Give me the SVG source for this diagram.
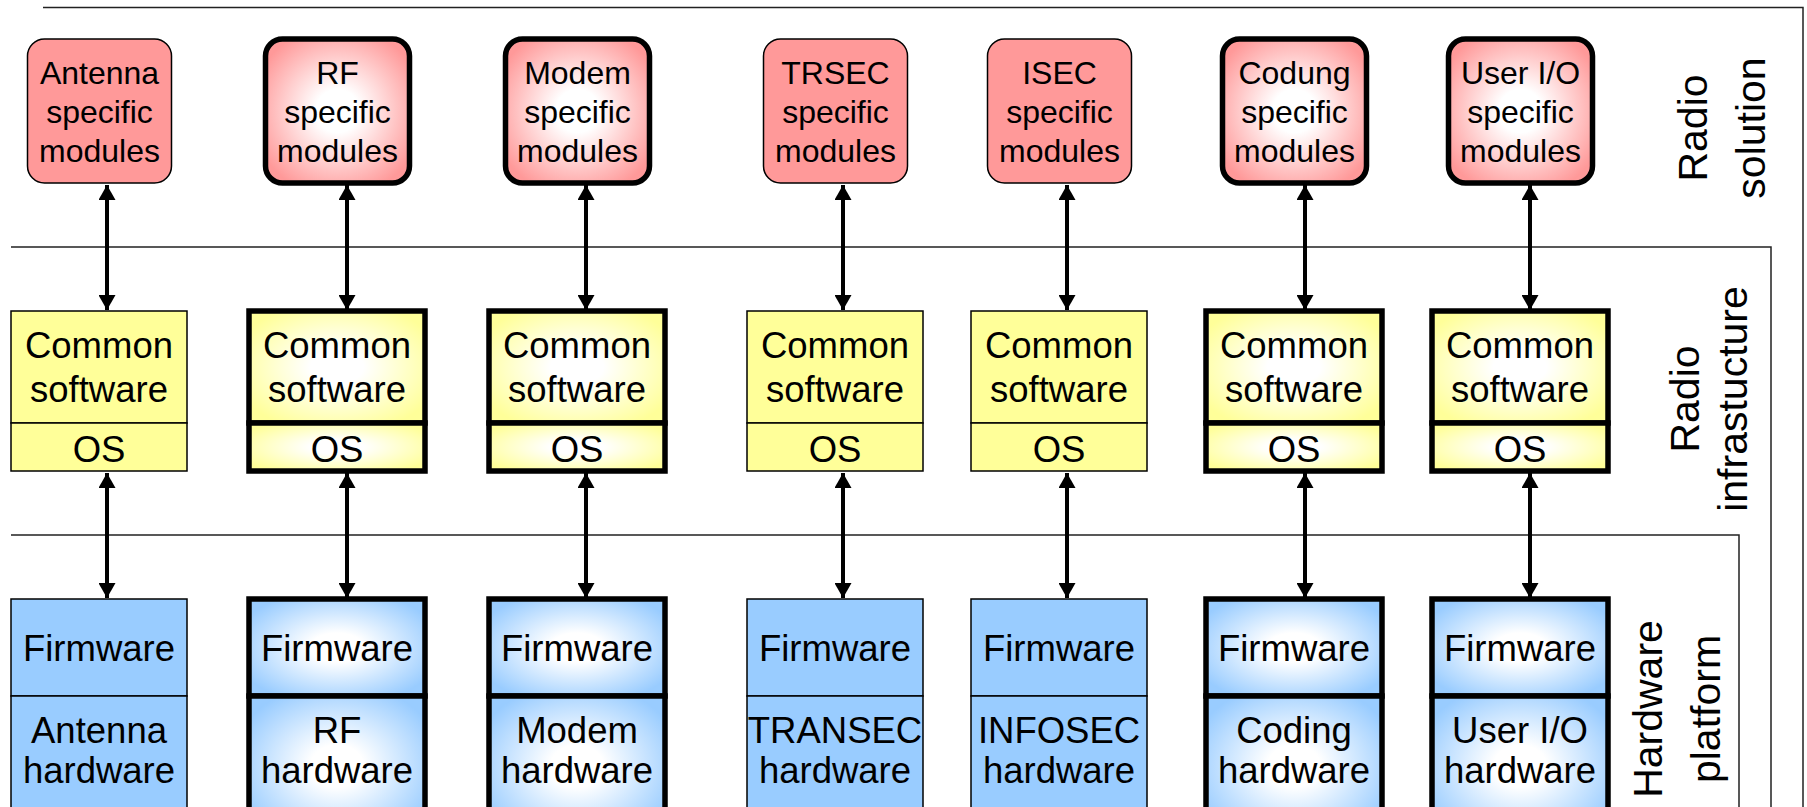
<svg xmlns="http://www.w3.org/2000/svg" width="1807" height="807" viewBox="0 0 1807 807">
<style>
  text { font-family: "Liberation Sans", Arial, sans-serif; fill: #000; text-anchor: middle; }
  .t1 { font-size: 32px; }
  .t2 { font-size: 36.5px; }
  .lab { font-size: 41px; }
  .frame { fill: none; stroke: #222; stroke-width: 1.5; }
  .thin { stroke: #000; stroke-width: 1.5; }
  .thick { stroke: #000; stroke-width: 5.5; }
  .conn { stroke: #000; stroke-width: 4; fill: none; marker-start: url(#ah); marker-end: url(#ah); }
</style>
<defs>
  <marker id="ah" viewBox="0 0 15 17" refX="15" refY="8.5" markerWidth="15" markerHeight="17" markerUnits="userSpaceOnUse" orient="auto-start-reverse">
    <path d="M0,0 L15,8.5 L0,17 Z" fill="#000"/>
  </marker>
  <radialGradient id="gR" cx="0.5" cy="0.5" r="0.6">
    <stop offset="0" stop-color="#ffffff"/>
    <stop offset="0.25" stop-color="#ffffff"/>
    <stop offset="1" stop-color="#ff9999"/>
  </radialGradient>
  <radialGradient id="gY" cx="0.5" cy="0.5" r="0.6">
    <stop offset="0" stop-color="#ffffff"/>
    <stop offset="0.25" stop-color="#ffffff"/>
    <stop offset="1" stop-color="#ffff99"/>
  </radialGradient>
  <radialGradient id="gB" cx="0.5" cy="0.5" r="0.6">
    <stop offset="0" stop-color="#ffffff"/>
    <stop offset="0.25" stop-color="#ffffff"/>
    <stop offset="1" stop-color="#99ccff"/>
  </radialGradient>
</defs>

<g id="layers">
  <polyline class="frame" points="43,7.5 1803,7.5 1803,807"/>
  <polyline class="frame" points="11,247 1771,247 1771,807"/>
  <polyline class="frame" points="11,535 1739,535 1739,807"/>
  <text class="lab" transform="translate(1707,128) rotate(-90)">Radio</text>
  <text class="lab" transform="translate(1765,128) rotate(-90)">solution</text>
  <text class="lab" transform="translate(1699,399) rotate(-90)">Radio</text>
  <text class="lab" transform="translate(1747,399) rotate(-90)">infrastucture</text>
  <text class="lab" transform="translate(1662,709) rotate(-90)">Hardware</text>
  <text class="lab" transform="translate(1720,709) rotate(-90)">platform</text>
</g>

<g id="connectors">
  <line class="conn" x1="107" y1="185" x2="107" y2="310"/>
  <line class="conn" x1="347" y1="185" x2="347" y2="310"/>
  <line class="conn" x1="586" y1="185" x2="586" y2="310"/>
  <line class="conn" x1="843" y1="185" x2="843" y2="310"/>
  <line class="conn" x1="1067" y1="185" x2="1067" y2="310"/>
  <line class="conn" x1="1305" y1="185" x2="1305" y2="310"/>
  <line class="conn" x1="1530" y1="185" x2="1530" y2="310"/>
  <line class="conn" x1="107" y1="473" x2="107" y2="598"/>
  <line class="conn" x1="347" y1="473" x2="347" y2="598"/>
  <line class="conn" x1="586" y1="473" x2="586" y2="598"/>
  <line class="conn" x1="843" y1="473" x2="843" y2="598"/>
  <line class="conn" x1="1067" y1="473" x2="1067" y2="598"/>
  <line class="conn" x1="1305" y1="473" x2="1305" y2="598"/>
  <line class="conn" x1="1530" y1="473" x2="1530" y2="598"/>
</g>

<!-- Column 1: Antenna -->
<g id="antenna-specific">
  <rect class="thin" x="27.5" y="39" width="144" height="144" rx="17" fill="#ff9999"/>
  <text class="t1" x="99.5" y="84">Antenna</text>
  <text class="t1" x="99.5" y="123">specific</text>
  <text class="t1" x="99.5" y="162">modules</text>
</g>
<g id="antenna-sw">
  <rect class="thin" x="11" y="311" width="176" height="112" fill="#ffff99"/>
  <rect class="thin" x="11" y="423" width="176" height="48" fill="#ffff99"/>
  <text class="t2" x="99" y="358">Common</text>
  <text class="t2" x="99" y="402">software</text>
  <text class="t2" x="99" y="462">OS</text>
</g>
<g id="antenna-hw">
  <rect class="thin" x="11" y="599" width="176" height="97" fill="#99ccff"/>
  <rect class="thin" x="11" y="696" width="176" height="140" fill="#99ccff"/>
  <text class="t2" x="99" y="661">Firmware</text>
  <text class="t2" x="99" y="743">Antenna</text>
  <text class="t2" x="99" y="783">hardware</text>
</g>

<!-- Column 2: RF -->
<g id="rf-specific">
  <rect class="thick" x="265.5" y="39" width="144" height="144" rx="17" fill="url(#gR)"/>
  <text class="t1" x="337.5" y="84">RF</text>
  <text class="t1" x="337.5" y="123">specific</text>
  <text class="t1" x="337.5" y="162">modules</text>
</g>
<g id="rf-sw">
  <rect class="thick" x="249" y="311" width="176" height="112" fill="url(#gY)"/>
  <rect class="thick" x="249" y="423" width="176" height="48" fill="url(#gY)"/>
  <text class="t2" x="337" y="358">Common</text>
  <text class="t2" x="337" y="402">software</text>
  <text class="t2" x="337" y="462">OS</text>
</g>
<g id="rf-hw">
  <rect class="thick" x="249" y="599" width="176" height="97" fill="url(#gB)"/>
  <rect class="thick" x="249" y="696" width="176" height="140" fill="url(#gB)"/>
  <text class="t2" x="337" y="661">Firmware</text>
  <text class="t2" x="337" y="743">RF</text>
  <text class="t2" x="337" y="783">hardware</text>
</g>

<!-- Column 3: Modem -->
<g id="modem-specific">
  <rect class="thick" x="505.5" y="39" width="144" height="144" rx="17" fill="url(#gR)"/>
  <text class="t1" x="577.5" y="84">Modem</text>
  <text class="t1" x="577.5" y="123">specific</text>
  <text class="t1" x="577.5" y="162">modules</text>
</g>
<g id="modem-sw">
  <rect class="thick" x="489" y="311" width="176" height="112" fill="url(#gY)"/>
  <rect class="thick" x="489" y="423" width="176" height="48" fill="url(#gY)"/>
  <text class="t2" x="577" y="358">Common</text>
  <text class="t2" x="577" y="402">software</text>
  <text class="t2" x="577" y="462">OS</text>
</g>
<g id="modem-hw">
  <rect class="thick" x="489" y="599" width="176" height="97" fill="url(#gB)"/>
  <rect class="thick" x="489" y="696" width="176" height="140" fill="url(#gB)"/>
  <text class="t2" x="577" y="661">Firmware</text>
  <text class="t2" x="577" y="743">Modem</text>
  <text class="t2" x="577" y="783">hardware</text>
</g>

<!-- Column 4: TRSEC -->
<g id="trsec-specific">
  <rect class="thin" x="763.5" y="39" width="144" height="144" rx="17" fill="#ff9999"/>
  <text class="t1" x="835.5" y="84">TRSEC</text>
  <text class="t1" x="835.5" y="123">specific</text>
  <text class="t1" x="835.5" y="162">modules</text>
</g>
<g id="trsec-sw">
  <rect class="thin" x="747" y="311" width="176" height="112" fill="#ffff99"/>
  <rect class="thin" x="747" y="423" width="176" height="48" fill="#ffff99"/>
  <text class="t2" x="835" y="358">Common</text>
  <text class="t2" x="835" y="402">software</text>
  <text class="t2" x="835" y="462">OS</text>
</g>
<g id="trsec-hw">
  <rect class="thin" x="747" y="599" width="176" height="97" fill="#99ccff"/>
  <rect class="thin" x="747" y="696" width="176" height="140" fill="#99ccff"/>
  <text class="t2" x="835" y="661">Firmware</text>
  <text class="t2" x="835" y="743">TRANSEC</text>
  <text class="t2" x="835" y="783">hardware</text>
</g>

<!-- Column 5: ISEC -->
<g id="isec-specific">
  <rect class="thin" x="987.5" y="39" width="144" height="144" rx="17" fill="#ff9999"/>
  <text class="t1" x="1059.5" y="84">ISEC</text>
  <text class="t1" x="1059.5" y="123">specific</text>
  <text class="t1" x="1059.5" y="162">modules</text>
</g>
<g id="isec-sw">
  <rect class="thin" x="971" y="311" width="176" height="112" fill="#ffff99"/>
  <rect class="thin" x="971" y="423" width="176" height="48" fill="#ffff99"/>
  <text class="t2" x="1059" y="358">Common</text>
  <text class="t2" x="1059" y="402">software</text>
  <text class="t2" x="1059" y="462">OS</text>
</g>
<g id="isec-hw">
  <rect class="thin" x="971" y="599" width="176" height="97" fill="#99ccff"/>
  <rect class="thin" x="971" y="696" width="176" height="140" fill="#99ccff"/>
  <text class="t2" x="1059" y="661">Firmware</text>
  <text class="t2" x="1059" y="743">INFOSEC</text>
  <text class="t2" x="1059" y="783">hardware</text>
</g>

<!-- Column 6: Coding -->
<g id="coding-specific">
  <rect class="thick" x="1222.5" y="39" width="144" height="144" rx="17" fill="url(#gR)"/>
  <text class="t1" x="1294.5" y="84">Codung</text>
  <text class="t1" x="1294.5" y="123">specific</text>
  <text class="t1" x="1294.5" y="162">modules</text>
</g>
<g id="coding-sw">
  <rect class="thick" x="1206" y="311" width="176" height="112" fill="url(#gY)"/>
  <rect class="thick" x="1206" y="423" width="176" height="48" fill="url(#gY)"/>
  <text class="t2" x="1294" y="358">Common</text>
  <text class="t2" x="1294" y="402">software</text>
  <text class="t2" x="1294" y="462">OS</text>
</g>
<g id="coding-hw">
  <rect class="thick" x="1206" y="599" width="176" height="97" fill="url(#gB)"/>
  <rect class="thick" x="1206" y="696" width="176" height="140" fill="url(#gB)"/>
  <text class="t2" x="1294" y="661">Firmware</text>
  <text class="t2" x="1294" y="743">Coding</text>
  <text class="t2" x="1294" y="783">hardware</text>
</g>

<!-- Column 7: User I/O -->
<g id="userio-specific">
  <rect class="thick" x="1448.5" y="39" width="144" height="144" rx="17" fill="url(#gR)"/>
  <text class="t1" x="1520.5" y="84">User I/O</text>
  <text class="t1" x="1520.5" y="123">specific</text>
  <text class="t1" x="1520.5" y="162">modules</text>
</g>
<g id="userio-sw">
  <rect class="thick" x="1432" y="311" width="176" height="112" fill="url(#gY)"/>
  <rect class="thick" x="1432" y="423" width="176" height="48" fill="url(#gY)"/>
  <text class="t2" x="1520" y="358">Common</text>
  <text class="t2" x="1520" y="402">software</text>
  <text class="t2" x="1520" y="462">OS</text>
</g>
<g id="userio-hw">
  <rect class="thick" x="1432" y="599" width="176" height="97" fill="url(#gB)"/>
  <rect class="thick" x="1432" y="696" width="176" height="140" fill="url(#gB)"/>
  <text class="t2" x="1520" y="661">Firmware</text>
  <text class="t2" x="1520" y="743">User I/O</text>
  <text class="t2" x="1520" y="783">hardware</text>
</g>
</svg>
